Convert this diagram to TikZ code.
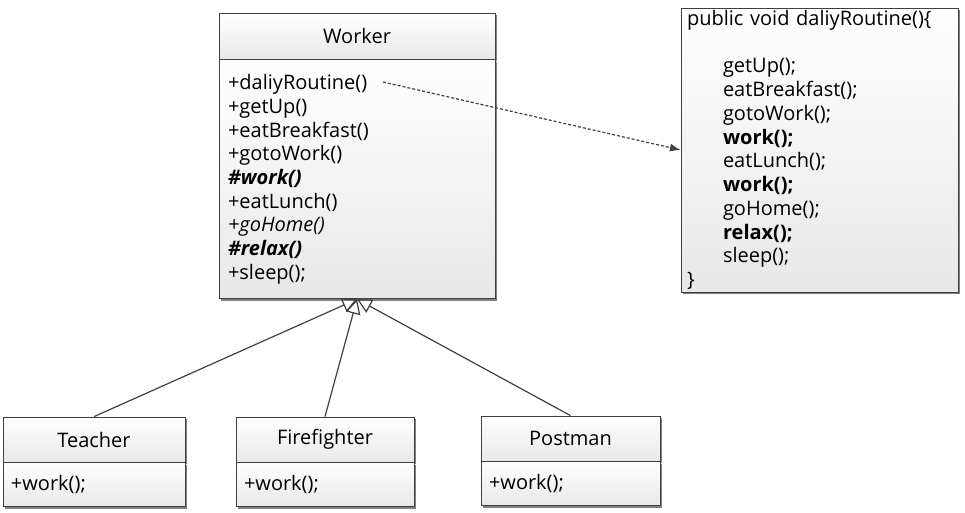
\documentclass[tikz,border=0pt]{standalone}
\usepackage{fontspec}
\setmainfont{Open Sans}
\usetikzlibrary{positioning,shadows,arrows.meta}
\newcommand{\umlfont}{\fontsize{15pt}{17.8pt}\selectfont}

\begin{document}
\begin{tikzpicture}[x=0.75pt,y=-0.75pt,
    umltitle/.style={draw=black!75, line width=0.6pt, top color=white, bottom color=black!9,
      drop shadow={shadow xshift=1.5pt,shadow yshift=-1.5pt,fill=black!50,opacity=1},
      inner sep=0pt, font=\umlfont},
    umlops/.style={umltitle, align=left, inner xsep=6pt, inner ysep=0pt},
    inherit/.style={draw=black!75, line width=0.9pt, -{Triangle[open,length=11pt,width=11pt]}},
    calls/.style={draw=black!75, line width=0.9pt, dash pattern=on 2.25pt off 1.5pt, -{Latex[length=8pt,width=6pt]}}]
    \useasboundingbox (0,0) rectangle (965,512);

    % parent class
    \node[umltitle, minimum width=207pt, minimum height=34.5pt] (worker) at (357,36) {Worker};
    \node[umlops, inner xsep=6.75pt, text width=193.5pt, minimum height=179.25pt,
          below=0pt of worker] (workerops) {+daliyRoutine()\\
        +getUp()\\
        +eatBreakfast()\\
        +gotoWork()\\
        \textbf{\textit{\#work()}}\\
        +eatLunch()\\
        \textit{+goHome()}\\
        \textbf{\textit{\#relax()}}\\
        +sleep();};

    % template method body
    \node[umlops, inner xsep=4.5pt, text width=198.75pt, minimum height=213pt] (routinebody) at (819.5,150) {public void daliyRoutine()\{\\
        \strut\\
        \hspace*{27pt}getUp();\\
        \hspace*{27pt}eatBreakfast();\\
        \hspace*{27pt}gotoWork();\\
        \hspace*{27pt}\textbf{work();}\\
        \hspace*{27pt}eatLunch();\\
        \hspace*{27pt}\textbf{work();}\\
        \hspace*{27pt}goHome();\\
        \hspace*{27pt}\textbf{relax();}\\
        \hspace*{27pt}sleep();\\
        \}};

    % subclasses
    \node[umltitle, minimum width=136.5pt, minimum height=33.75pt] (teacher) at (94,439.5) {Teacher};
    \node[umlops, text width=124.5pt, minimum height=33pt, below=0pt of teacher] (teacherops) {+work();};
    \node[umltitle, minimum width=133.5pt, minimum height=33.75pt] (firefighter) at (325,439.5) {Firefighter};
    \node[umlops, text width=121.5pt, minimum height=33pt, below=0pt of firefighter] (firefighterops) {+work();};
    \node[umltitle, minimum width=134.25pt, minimum height=33.75pt] (postman) at (570.5,438.5) {Postman};
    \node[umlops, text width=122.25pt, minimum height=33pt, below=0pt of postman] (postmanops) {+work();};

    % connectors
    \draw[inherit] (teacher.north) -- (workerops.south);
    \draw[inherit] (firefighter.north) -- (workerops.south);
    \draw[inherit] (postman.north) -- (workerops.south);
    \coordinate (callsrc) at (383,82);
    \draw[calls] (callsrc) -- (routinebody.west);
\end{tikzpicture}
\end{document}
